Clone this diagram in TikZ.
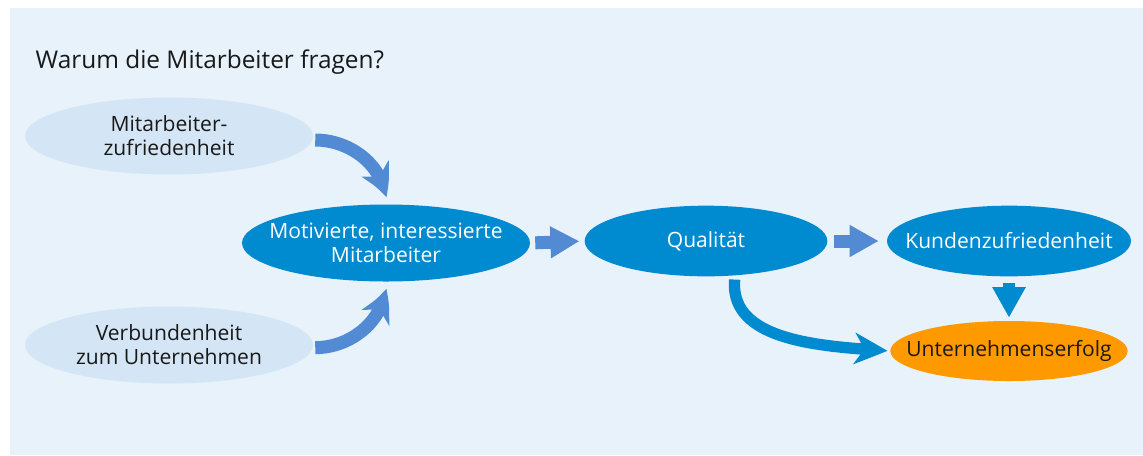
\documentclass[tikz,border=0pt]{standalone}
\usepackage{fontspec}
\setmainfont{Open Sans}
\usetikzlibrary{arrows.meta,bending,shapes.geometric}
\definecolor{panelbg}{RGB}{232,242,251}
\definecolor{softblue}{RGB}{212,230,245}
\definecolor{deepblue}{RGB}{0,138,208}
\definecolor{arrowblue}{RGB}{82,139,212}
\definecolor{goalorange}{RGB}{255,153,0}

\begin{document}
\begin{tikzpicture}[x=0.75pt, y=-0.75pt,
  every node/.style={font=\fontsize{15.8}{18}\selectfont, text=black!90},
  blob/.style={ellipse, inner xsep=-30pt, inner ysep=0pt, align=center},
  softblob/.style={blob, fill=softblue, minimum width=216pt, minimum height=57.75pt},
  deepblob/.style={blob, fill=deepblue, text=white},
  push/.style={line width=9.75pt, arrowblue, -{Triangle[width=22.5pt, length=21.75pt]}},
  bendpush/.style={line width=9.75pt, arrowblue, -{Stealth[width=23pt, length=24pt, inset=7pt, bend]}},
  deeppush/.style={line width=8.5pt, deepblue, -{Triangle[width=23.5pt, length=23pt]}},
  deepbend/.style={line width=8.5pt, deepblue, -{Stealth[width=23.5pt, length=24pt, inset=7pt, bend]}}]
  % frame
  \useasboundingbox (0,0) rectangle (1143,455);
  \fill[panelbg] (10,8) rectangle (1143,455);
  \node[anchor=west, font=\fontsize{18.3}{22}\selectfont] (title) at (31,62) {Warum die Mitarbeiter fragen?};
  % sources
  \node[softblob] (happy) at (169,136) {Mitarbeiter-\\zufriedenheit};
  \node[softblob] (bond)  at (169,345) {Verbundenheit\\zum Unternehmen};
  % chain
  \node[deepblob, minimum width=216pt, minimum height=57.75pt] (staff) at (386,243) {Motivierte, interessierte\\Mitarbeiter};
  \node[deepblob, minimum width=182pt, minimum height=53pt] (quality) at (706,241) {Qualität};
  \node[deepblob, minimum width=183pt, minimum height=53pt] (clients) at (1009,241) {Kundenzufriedenheit};
  \node[blob, fill=goalorange, minimum width=178pt, minimum height=45pt] (success) at (1009,351) {Unternehmenserfolg};
  % arrows
  \draw[bendpush, shorten <=1.5pt, shorten >=5pt] ([yshift=-3pt]happy.east) to[out=0, in=90] (staff.north);
  \draw[bendpush, shorten <=1.5pt, shorten >=5pt] ([yshift=-2pt]bond.east) to[out=0, in=-90] (staff.south);
  \draw[push, shorten <=3.75pt, shorten >=3.75pt] (staff.east) -- (quality.west);
  \draw[push, shorten <=4.5pt, shorten >=6pt] (quality.east) -- (clients.west);
  \draw[deeppush, shorten <=4.5pt, shorten >=2.25pt] (clients.south) -- (success.north);
  \draw[deepbend, shorten <=3pt, shorten >=2pt] (quality.-50) to[out=-95, in=176] (success.west);
\end{tikzpicture}
\end{document}
